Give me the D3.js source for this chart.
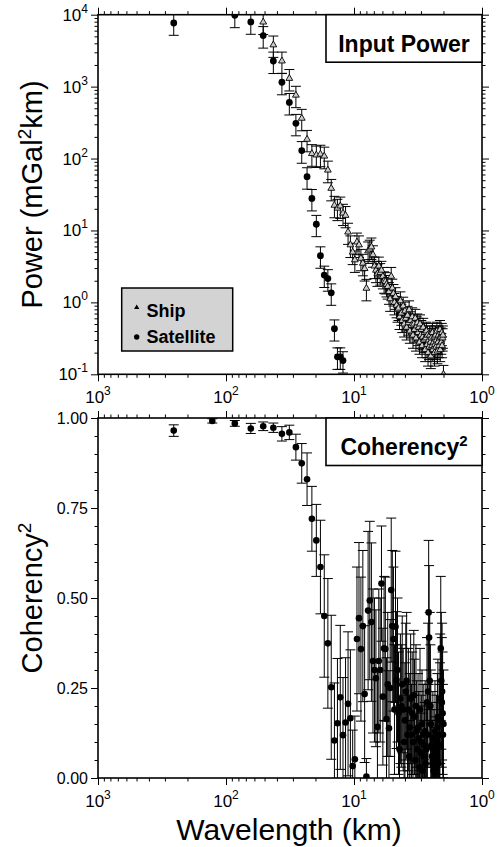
<!DOCTYPE html>
<html><head><meta charset="utf-8">
<script src="https://cdn.jsdelivr.net/npm/d3@7"></script>
<style>html,body{margin:0;padding:0;background:#fff}svg{display:block}</style>
</head><body>
<svg id="c" width="498" height="847"></svg>
<script>
// ---------- DATA ----------
// wavelengths (km) of the spectral estimates
const wavelengths = [256,128,85.33,64,51.2,42.67,36.57,32,28.44,25.6,23.27,21.33,19.69,18.29,17.07,16,15.06,14.22,13.47,12.8,
12.19,11.64,11.13,10.67,10.24,9.85,9.48,9.14,8.83,8.53,8.26,8,7.76,7.53,7.31,7.11,6.92,6.74,6.56,6.4,
6.24,6.1,5.95,5.82,5.69,5.57,5.45,5.33,5.22,5.12,5.02,4.92,4.83,4.74,4.65,4.57,4.49,4.41,4.34,4.27,
4.2,4.13,4.06,4,3.94,3.88,3.82,3.76,3.71,3.66,3.61,3.56,3.51,3.46,3.41,3.37,3.32,3.28,3.24,3.2,
3.16,3.12,3.08,3.05,3.01,2.98,2.94,2.91,2.88,2.84,2.81,2.78,2.75,2.72,2.69,2.67,2.64,2.61,2.59,2.56,
2.53,2.51,2.49,2.46,2.44,2.42,2.39,2.37,2.35,2.33,2.31,2.29,2.27,2.25,2.23,2.21,2.19,2.17,2.15,2.13,
2.12,2.1,2.08,2.06,2.05,2.03,2.02,2];

// Satellite power (mGal^2 km), first 21 wavelengths
const satPower = [7670,20000,9800,7940,5130,2270,1150,603,309,129,56,27.9,12.2,4.45,2.40,2.14,1.36,0.43,0.175,0.175,0.155];
const satErr   = [2500,6600,3200,2600,1700,750,380,200,102,43,18.5,9.2,4.0,1.47,0.79,0.71,0.45,0.14,0.058,0.058,0.051];

// Ship power, starting at the 5th wavelength (51.2 km)
const shipStart = 4;
const shipPower = [7900,3800,2270,1300,760,363,185,117,112,115,108,69,38.5,22.4,20.4,21.9,17.4,16.2,9.5,6.3,
5.0,3.9,6.9,6.3,4.1,3.5,2.95,1.57,5.2,5.5,5.9,4.6,3.2,2.8,2.5,3.2,2.6,2.8,2.3,2.0,
1.95,1.78,1.66,1.41,1.12,2.3,1.58,1.33,1.0,1.2,0.91,0.79,0.83,0.63,1.05,0.71,0.56,0.89,0.50,0.76,
0.60,0.45,0.66,0.52,0.79,0.40,0.56,0.48,0.63,0.35,0.50,0.42,0.60,0.32,0.47,0.52,0.38,0.45,0.28,0.50,
0.35,0.42,0.25,0.33,0.45,0.30,0.38,0.22,0.32,0.40,0.26,0.35,0.20,0.30,0.24,0.35,0.28,0.18,0.32,0.25,
0.38,0.22,0.28,0.33,0.20,0.26,0.35,0.24,0.30,0.40,0.21,0.28,0.35,0.25,0.32,0.42,0.22,0.33,0.28,0.38,
0.25,0.32,0.35,0.10];
const shipErr = [2600,1250,750,430,250,120,61,39,37,38,36,23,12.7,7.4,6.7,7.2,5.7,5.3,3.1,2.1,
1.65,1.29,2.3,2.1,1.35,1.16,0.97,0.52,1.72,1.82,1.95,1.52,1.06,0.92,0.83,1.06,0.86,0.92,0.76,0.66,
0.64,0.59,0.55,0.47,0.37,0.76,0.52,0.44,0.33,0.4,0.3,0.26,0.27,0.21,0.35,0.23,0.18,0.29,0.17,0.25,
0.2,0.15,0.22,0.17,0.26,0.13,0.18,0.16,0.21,0.12,0.17,0.14,0.2,0.11,0.16,0.17,0.13,0.15,0.09,0.17,
0.12,0.14,0.08,0.11,0.15,0.1,0.13,0.07,0.11,0.13,0.09,0.12,0.07,0.1,0.08,0.12,0.09,0.06,0.11,0.08,
0.13,0.07,0.09,0.11,0.07,0.09,0.12,0.08,0.1,0.13,0.07,0.09,0.12,0.08,0.11,0.14,0.07,0.11,0.09,0.13,
0.08,0.11,0.12,0.033];

// Coherency^2 for every wavelength
const coherency = [0.965,0.992,0.985,0.971,0.977,0.973,0.956,0.96,0.919,0.874,0.83,0.72,0.66,0.586,0.45,0.374,0.252,0.104,0.152,0.224,
0.119,0.154,0.206,0.166,0.033,0.052,0.386,0.444,0.358,0.422,0.233,0.004,0.465,0.493,0.433,0.325,0.30,0.277,0.142,0.325,
0.30,0.54,0.226,0.36,0.358,0.164,0.26,0.138,0.25,0.522,0.422,0.386,0.19,0.42,0.272,0.30,0.18,0.08,0.22,0.20,
0.26,0.19,0.10,0.16,0.24,0.27,0.12,0.19,0.06,0.14,0.22,0.12,0.18,0.10,0.23,0.17,0.05,0.20,0.13,0.08,
0.14,0.11,0.03,0.19,0.07,0.10,0.15,0.02,0.12,0.06,0.09,0.13,0.04,0.08,0.21,0.12,0.24,0.46,0.39,0.27,
0.20,0.15,0.09,0.06,0.04,0.11,0.02,0.08,0.05,0.13,0.07,0.03,0.10,0.06,0.14,0.17,0.04,0.09,0.12,0.16,
0.22,0.36,0.27,0.21,0.24,0.18,0.12,0.15];
const cohErr = [0.016,0.006,0.008,0.014,0.012,0.013,0.02,0.02,0.036,0.055,0.073,0.09,0.10,0.13,0.17,0.18,0.2,0.16,0.18,0.2,
0.16,0.18,0.2,0.19,0.1,0.12,0.2,0.21,0.2,0.21,0.19,0.05,0.22,0.22,0.22,0.2,0.2,0.19,0.16,0.2,
0.2,0.16,0.19,0.2,0.2,0.17,0.2,0.16,0.19,0.2,0.21,0.2,0.18,0.21,0.19,0.2,0.17,0.12,0.18,0.17,
0.19,0.17,0.13,0.16,0.19,0.19,0.14,0.17,0.1,0.15,0.18,0.14,0.17,0.13,0.18,0.16,0.09,0.17,0.14,0.12,
0.15,0.13,0.07,0.17,0.11,0.13,0.15,0.06,0.14,0.1,0.12,0.14,0.08,0.12,0.18,0.14,0.19,0.2,0.2,0.19,
0.17,0.15,0.12,0.1,0.08,0.13,0.06,0.11,0.09,0.14,0.1,0.07,0.13,0.1,0.15,0.16,0.08,0.12,0.14,0.16,
0.18,0.2,0.19,0.18,0.19,0.17,0.14,0.15];

const xMajor = [1000,100,10,1];
const xLabelsExp = ["3","2","1","0"];
const yTopMajor = [10000,1000,100,10,1,0.1];
const yTopExp = ["4","3","2","1","0","-1"];
const yBotMajor = [0,0.25,0.5,0.75,1];
const yBotLabels = ["0.00","0.25","0.50","0.75","1.00"];

// ---------- LAYOUT ----------
const L = 98, R = 482;
const top1 = 14.7, bot1 = 374.3, top2 = 418, bot2 = 778;
const FONT = "'Liberation Sans', Arial, Helvetica, sans-serif";

const svg = d3.select("#c");
const x = d3.scaleLog().domain([1000,1]).range([L,R]);
const yP = d3.scaleLog().domain([0.1,10000]).range([bot1,top1]);
const yC = d3.scaleLinear().domain([0,1]).range([bot2,top2]);

function logMinors(lo,hi){const m=[];for(let e=lo;e<hi;e++){for(let k=2;k<=9;k++)m.push(k*Math.pow(10,e));}return m;}
const xMinor = logMinors(0,3);
const yTopMinor = logMinors(-1,4);
const yBotMinor = d3.range(0,1.0001,0.05).filter(v=>Math.abs((v*4)-Math.round(v*4))>1e-6);

function drawAxis(g, axisGen){ g.call(axisGen); g.select(".domain").remove(); g.selectAll("line").attr("stroke","#000").attr("stroke-width",1); }

const defs = svg.append("defs");
defs.append("clipPath").attr("id","clip1").append("rect").attr("x",L).attr("y",top1).attr("width",R-L).attr("height",bot1-top1);
defs.append("clipPath").attr("id","clip2").append("rect").attr("x",L).attr("y",top2).attr("width",R-L).attr("height",bot2-top2);

function panelAxes(ys, yMajor, yMinor, t, b){
  drawAxis(svg.append("g").attr("transform",`translate(0,${b})`), d3.axisBottom(x).tickValues(xMinor).tickSize(3.5).tickFormat(""));
  drawAxis(svg.append("g").attr("transform",`translate(0,${b})`), d3.axisBottom(x).tickValues(xMajor).tickSize(7).tickFormat(""));
  drawAxis(svg.append("g").attr("transform",`translate(0,${t})`), d3.axisTop(x).tickValues(xMinor).tickSize(3.5).tickFormat(""));
  drawAxis(svg.append("g").attr("transform",`translate(0,${t})`), d3.axisTop(x).tickValues(xMajor).tickSize(7).tickFormat(""));
  drawAxis(svg.append("g").attr("transform",`translate(${L},0)`), d3.axisLeft(ys).tickValues(yMinor).tickSize(3.5).tickFormat(""));
  drawAxis(svg.append("g").attr("transform",`translate(${L},0)`), d3.axisLeft(ys).tickValues(yMajor).tickSize(7).tickFormat(""));
  drawAxis(svg.append("g").attr("transform",`translate(${R},0)`), d3.axisRight(ys).tickValues(yMinor).tickSize(3.5).tickFormat(""));
  drawAxis(svg.append("g").attr("transform",`translate(${R},0)`), d3.axisRight(ys).tickValues(yMajor).tickSize(7).tickFormat(""));
  xMajor.forEach((v,i)=>{
    const t0 = svg.append("text").attr("x",x(v)).attr("y",b+29).attr("text-anchor","middle")
      .attr("font-family",FONT).attr("font-size",17).attr("fill","#000");
    t0.append("tspan").text("10");
    t0.append("tspan").attr("dy",-8).attr("font-size",12).text(xLabelsExp[i]);
  });
}

panelAxes(yP, yTopMajor, yTopMinor, top1, bot1);
panelAxes(yC, yBotMajor, yBotMinor, top2, bot2);

yTopMajor.forEach((v,i)=>{
  const t0 = svg.append("text").attr("x",L-10).attr("y",yP(v)+6).attr("text-anchor","end")
    .attr("font-family",FONT).attr("font-size",17).attr("fill","#000");
  t0.append("tspan").text("10");
  t0.append("tspan").attr("dy",-8).attr("font-size",12).text(yTopExp[i]);
});
yBotMajor.forEach((v,i)=>{
  svg.append("text").attr("x",L-10).attr("y",yC(v)+5.5).attr("text-anchor","end")
    .attr("font-family",FONT).attr("font-size",16).attr("fill","#000").text(yBotLabels[i]);
});

// ---------- DATA MARKS ----------
const CAP = 5;
function errBars(g, pts, ys){
  const sel = g.selectAll(null).data(pts).enter().append("g");
  sel.append("line").attr("x1",d=>x(d.w)).attr("x2",d=>x(d.w)).attr("y1",d=>ys(d.lo)).attr("y2",d=>ys(d.hi));
  sel.append("line").attr("x1",d=>x(d.w)-CAP).attr("x2",d=>x(d.w)+CAP).attr("y1",d=>ys(d.lo)).attr("y2",d=>ys(d.lo));
  sel.append("line").attr("x1",d=>x(d.w)-CAP).attr("x2",d=>x(d.w)+CAP).attr("y1",d=>ys(d.hi)).attr("y2",d=>ys(d.hi));
  sel.selectAll("line").attr("stroke","#000").attr("stroke-width",1);
}

const g1 = svg.append("g").attr("clip-path","url(#clip1)");
const satPts = satPower.map((v,i)=>({w:wavelengths[i],v,lo:Math.max(v-satErr[i],1e-3),hi:v+satErr[i]}));
const shipPts = shipPower.map((v,i)=>({w:wavelengths[i+shipStart],v,lo:Math.max(v-shipErr[i],1e-3),hi:v+shipErr[i]}));
errBars(g1.append("g"), satPts, yP);
g1.append("g").selectAll("circle").data(satPts).enter().append("circle")
  .attr("cx",d=>x(d.w)).attr("cy",d=>yP(d.v)).attr("r",3.4).attr("fill","#000");
errBars(g1.append("g"), shipPts, yP);
g1.append("g").selectAll("path").data(shipPts).enter().append("path")
  .attr("d",d3.symbol(d3.symbolTriangle).size(20))
  .attr("transform",d=>`translate(${x(d.w)},${yP(d.v)})`)
  .attr("fill","#ccc").attr("stroke","#000").attr("stroke-width",0.9);

const g2 = svg.append("g").attr("clip-path","url(#clip2)");
const cohPts = coherency.map((v,i)=>({w:wavelengths[i],v,lo:v-cohErr[i],hi:v+cohErr[i]}));
errBars(g2.append("g"), cohPts, yC);
g2.append("g").selectAll("circle").data(cohPts).enter().append("circle")
  .attr("cx",d=>x(d.w)).attr("cy",d=>yC(d.v)).attr("r",3.3).attr("fill","#000");

// ---------- FRAMES ----------
[[top1,bot1],[top2,bot2]].forEach(([t,b])=>{
  svg.append("rect").attr("x",L).attr("y",t).attr("width",R-L).attr("height",b-t)
    .attr("fill","none").attr("stroke","#000").attr("stroke-width",1.6);
});

function titleBox(t, label, sup){
  svg.append("rect").attr("x",326).attr("y",t).attr("width",R-326).attr("height",47.5)
    .attr("fill","#fff").attr("stroke","#000").attr("stroke-width",1.6);
  const tx = svg.append("text").attr("x",404).attr("y",t+37).attr("text-anchor","middle")
    .attr("font-family",FONT).attr("font-weight","bold").attr("font-size",23).attr("fill","#000");
  tx.append("tspan").text(label);
  if(sup){ tx.append("tspan").attr("dy",-9).attr("font-size",15).text(sup); }
}
titleBox(top1, "Input Power", null);
titleBox(top2, "Coherency", "2");

const lg = svg.append("g");
lg.append("rect").attr("x",121.7).attr("y",288).attr("width",111).attr("height",63)
  .attr("fill","#d3d3d3").attr("stroke","#000").attr("stroke-width",1.5);
lg.append("path").attr("d",d3.symbol(d3.symbolTriangle).size(12)).attr("transform","translate(136.7,307.5)").attr("fill","#000");
lg.append("circle").attr("cx",136.7).attr("cy",337).attr("r",2.7).attr("fill","#000");
lg.append("text").attr("x",146.5).attr("y",316.5).attr("font-family",FONT).attr("font-weight","bold").attr("font-size",18).text("Ship");
lg.append("text").attr("x",146.5).attr("y",343.3).attr("font-family",FONT).attr("font-weight","bold").attr("font-size",18).text("Satellite");

const yt1 = svg.append("text").attr("transform",`translate(42,${(top1+bot1)/2}) rotate(-90)`).attr("text-anchor","middle")
  .attr("font-family",FONT).attr("font-size",29).attr("fill","#000");
yt1.append("tspan").text("Power (mGal");
yt1.append("tspan").attr("dy",-11).attr("font-size",19).text("2");
yt1.append("tspan").attr("dy",11).text("km)");
const yt2 = svg.append("text").attr("transform",`translate(42,${(top2+bot2)/2}) rotate(-90)`).attr("text-anchor","middle")
  .attr("font-family",FONT).attr("font-size",29).attr("fill","#000");
yt2.append("tspan").text("Coherency");
yt2.append("tspan").attr("dy",-11).attr("font-size",19).text("2");
svg.append("text").attr("x",289).attr("y",840).attr("text-anchor","middle")
  .attr("font-family",FONT).attr("font-size",30).attr("fill","#000").text("Wavelength (km)");
</script>
</body></html>
